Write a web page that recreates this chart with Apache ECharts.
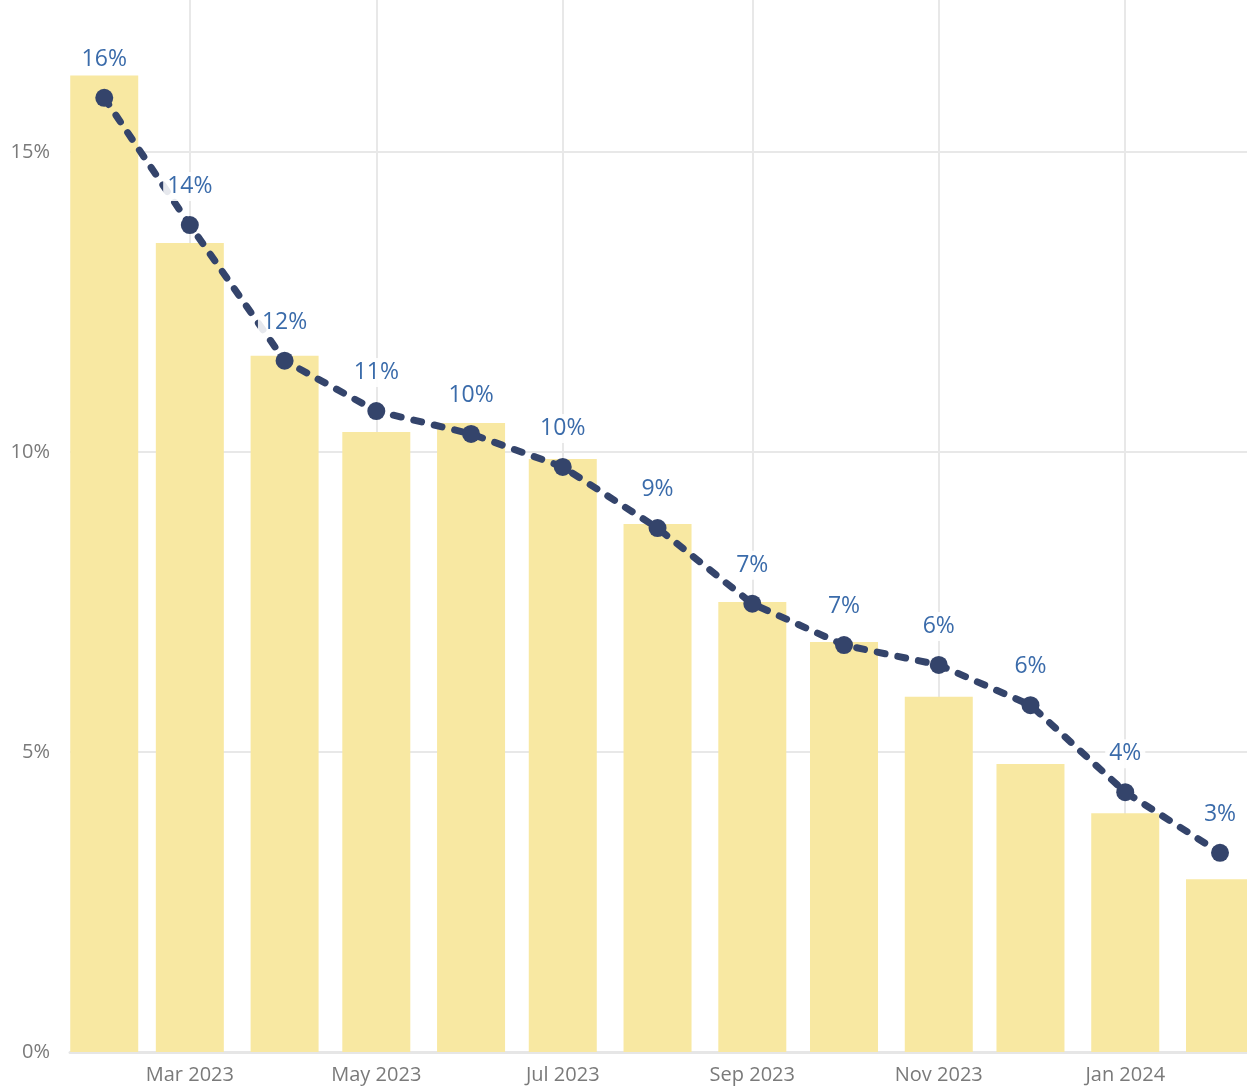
<!DOCTYPE html>
<html>
<head>
<meta charset="utf-8">
<script src="https://cdn.jsdelivr.net/npm/echarts@6/dist/echarts.min.js"></script>
<style>
html,body{margin:0;padding:0;background:#fff;}
#chart{width:1247px;height:1088px;}
</style>
</head>
<body>
<div id="chart"></div>
<script>
// Months (first day of each month), Feb 2023 – Feb 2024
const months = [
  [2023,1],[2023,2],[2023,3],[2023,4],[2023,5],[2023,6],[2023,7],
  [2023,8],[2023,9],[2023,10],[2023,11],[2024,0],[2024,1]
];
// Bar values (%)
const barValues = [16.27, 13.48, 11.6, 10.33, 10.48, 9.88, 8.8, 7.5, 6.83, 5.92, 4.8, 3.98, 2.88];
// Line values (%)
const lineValues = [15.9, 13.78, 11.52, 10.68, 10.3, 9.75, 8.73, 7.47, 6.78, 6.45, 5.78, 4.33, 3.32];
const monthNames = ['Jan','Feb','Mar','Apr','May','Jun','Jul','Aug','Sep','Oct','Nov','Dec'];

const DAY = 86400000;
const times = months.map(m => new Date(m[0], m[1], 1).getTime());
// Desired visible extent
const A = times[0] - 11.2 * DAY;
const B = times[times.length - 1] + 8.83 * DAY;
// ECharts widens a bar axis by half a bar on each side; pre-shrink to compensate
const GRID_LEFT = 70, GRID_RIGHT = 0, BAR_W = 68;
const axisLen = 1247 - GRID_LEFT - GRID_RIGHT;
const shrink = (BAR_W / 2) * (B - A) / axisLen;
const xMin = A + shrink;
const xMax = B - shrink;

const chart = echarts.init(document.getElementById('chart'));
chart.setOption({
  animation: false,
  backgroundColor: '#ffffff',
  grid: { left: GRID_LEFT, right: GRID_RIGHT, top: 0, bottom: 36, containLabel: false },
  xAxis: {
    type: 'time',
    min: xMin,
    max: xMax,
    splitNumber: 6,
    axisLine: { show: true, lineStyle: { color: '#e6e6e6', width: 3 } },
    axisTick: { show: false },
    splitLine: { show: true, showMinLine: false, showMaxLine: false, lineStyle: { color: '#e8e8e8', width: 2 } },
    axisLabel: {
      color: '#7a7a7a',
      fontSize: 20,
      fontFamily: 'Open Sans, Noto Sans, sans-serif',
      margin: 13,
      hideOverlap: false,
      showMinLabel: false,
      showMaxLabel: false,
      formatter: function (v) {
        const d = new Date(v);
        if (d.getDate() !== 1 || d.getMonth() % 2 !== 0) return '';
        return monthNames[d.getMonth()] + ' ' + d.getFullYear();
      }
    }
  },
  yAxis: {
    type: 'value',
    min: 0,
    max: 17.53,
    interval: 5,
    axisLine: { show: false },
    axisTick: { show: false },
    splitLine: { show: true, showMaxLine: false, lineStyle: { color: '#e8e8e8', width: 2 } },
    axisLabel: {
      color: '#7a7a7a',
      fontSize: 20,
      fontFamily: 'Open Sans, Noto Sans, sans-serif',
      margin: 20,
      formatter: function (v) { return (v % 5 === 0) ? v + '%' : ''; }
    }
  },
  series: [
    {
      type: 'bar',
      data: times.map((t, i) => [t, barValues[i]]),
      barWidth: BAR_W,
      itemStyle: { color: '#F8E8A2' },
      z: 1
    },
    {
      type: 'line',
      data: times.map((t, i) => [t, lineValues[i]]),
      symbol: 'circle',
      symbolSize: 18,
      itemStyle: { color: '#34446B' },
      lineStyle: { color: '#34446B', width: 7, type: [8, 13], cap: 'round' },
      z: 3,
      label: {
        show: true,
        position: 'top',
        distance: 15,
        color: '#3A6BAA',
        fontSize: 23,
        fontWeight: 500,
        fontFamily: 'Open Sans, Noto Sans, sans-serif',
        backgroundColor: 'rgba(255,255,255,0.88)',
        padding: [3, 4],
        formatter: function (p) { return Math.round(p.value[1]) + '%'; }
      }
    }
  ]
});
</script>
</body>
</html>
